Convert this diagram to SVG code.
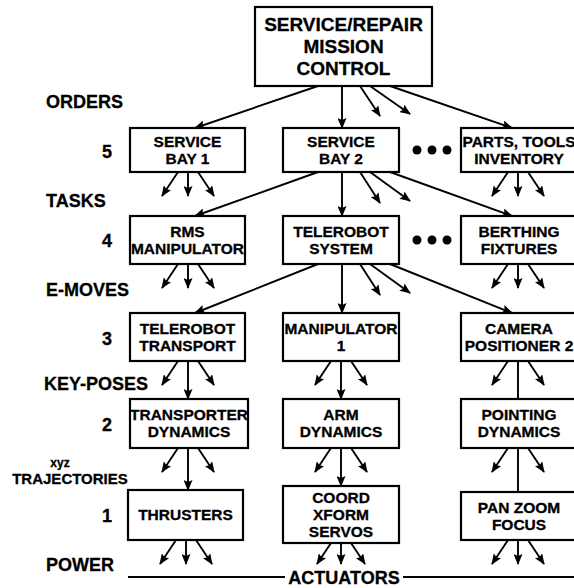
<svg xmlns="http://www.w3.org/2000/svg" width="574" height="588" viewBox="0 0 574 588">
<defs>
<marker id="ah" markerUnits="userSpaceOnUse" markerWidth="11" markerHeight="9" refX="10" refY="4.5" orient="auto">
<path d="M0,0 L11,4.5 L0,9 L2,4.5 z" fill="#000"/>
</marker>
<style>
.box{fill:#fff;stroke:#000;stroke-width:2.2}
.bt{font-family:"Liberation Sans",Arial,sans-serif;font-weight:bold;font-size:15.5px;text-anchor:middle;fill:#000;stroke:#000;stroke-width:0.3}
.tt{font-family:"Liberation Sans",Arial,sans-serif;font-weight:bold;font-size:19px;text-anchor:middle;fill:#000;stroke:#000;stroke-width:0.3}
.lb{font-family:"Liberation Sans",Arial,sans-serif;font-weight:bold;font-size:18px;fill:#000;stroke:#000;stroke-width:0.3}
.num{font-family:"Liberation Sans",Arial,sans-serif;font-weight:bold;font-size:18px;text-anchor:middle;fill:#000;stroke:#000;stroke-width:0.3}
.ar{stroke:#000;stroke-width:1.9;fill:none;marker-end:url(#ah)}
.ln{stroke:#000;stroke-width:1.9;fill:none}
</style>
</defs>
<rect width="574" height="588" fill="#fff"/>

<g id="labels">
<text class="lb" x="46" y="108">ORDERS</text>
<text class="num" x="107" y="158">5</text>
<text class="lb" x="46" y="207">TASKS</text>
<text class="num" x="107" y="247">4</text>
<text class="lb" x="46" y="296">E-MOVES</text>
<text class="num" x="107" y="345">3</text>
<text class="lb" x="44" y="390">KEY-POSES</text>
<text class="num" x="107" y="431">2</text>
<text class="bt" x="60" y="467" style="font-size:12px">xyz</text>
<text class="bt" x="70" y="484" style="font-size:15px">TRAJECTORIES</text>
<text class="num" x="107" y="522">1</text>
<text class="lb" x="46" y="571">POWER</text>
<text class="tt" x="344" y="584" style="font-size:18px">ACTUATORS</text>
<line class="ln" x1="128" y1="577" x2="285" y2="577"/>
<line class="ln" x1="403" y1="577" x2="574" y2="577"/>
</g>

<g id="connectors">
<line class="ar" x1="318" y1="86" x2="195" y2="128"/>
<line class="ar" x1="342" y1="86" x2="342" y2="128"/>
<line class="ar" x1="360" y1="86" x2="380" y2="116"/>
<line class="ar" x1="370" y1="86" x2="410" y2="114"/>
<line class="ar" x1="390" y1="86" x2="512" y2="128"/>
<line class="ar" x1="318" y1="172" x2="195" y2="216"/>
<line class="ar" x1="342" y1="172" x2="342" y2="216"/>
<line class="ar" x1="360" y1="172" x2="380" y2="203"/>
<line class="ar" x1="370" y1="172" x2="410" y2="201"/>
<line class="ar" x1="390" y1="172" x2="512" y2="216"/>
<line class="ar" x1="178" y1="172" x2="162" y2="196"/>
<line class="ar" x1="188" y1="172" x2="188" y2="196"/>
<line class="ar" x1="198" y1="172" x2="214" y2="196"/>
<line class="ar" x1="508" y1="172" x2="492" y2="196"/>
<line class="ar" x1="518" y1="172" x2="518" y2="196"/>
<line class="ar" x1="528" y1="172" x2="544" y2="196"/>
<line class="ar" x1="318" y1="264" x2="195" y2="313"/>
<line class="ar" x1="342" y1="264" x2="342" y2="313"/>
<line class="ar" x1="360" y1="264" x2="380" y2="295"/>
<line class="ar" x1="370" y1="264" x2="410" y2="293"/>
<line class="ar" x1="390" y1="264" x2="512" y2="313"/>
<line class="ar" x1="178" y1="264" x2="162" y2="288"/>
<line class="ar" x1="188" y1="264" x2="188" y2="288"/>
<line class="ar" x1="198" y1="264" x2="214" y2="288"/>
<line class="ar" x1="508" y1="264" x2="492" y2="288"/>
<line class="ar" x1="518" y1="264" x2="518" y2="288"/>
<line class="ar" x1="528" y1="264" x2="544" y2="288"/>
<line class="ar" x1="178" y1="361" x2="162" y2="385"/>
<line class="ar" x1="188" y1="361" x2="188" y2="399"/>
<line class="ar" x1="198" y1="361" x2="214" y2="385"/>
<line class="ar" x1="331" y1="361" x2="315" y2="385"/>
<line class="ar" x1="341" y1="361" x2="341" y2="399"/>
<line class="ar" x1="351" y1="361" x2="367" y2="385"/>
<line class="ar" x1="508" y1="361" x2="492" y2="385"/>
<line class="ln" x1="518" y1="361" x2="518" y2="399"/>
<line class="ar" x1="528" y1="361" x2="544" y2="385"/>
<line class="ar" x1="178" y1="448" x2="162" y2="472"/>
<line class="ar" x1="188" y1="448" x2="188" y2="490"/>
<line class="ar" x1="198" y1="448" x2="214" y2="472"/>
<line class="ar" x1="331" y1="448" x2="315" y2="472"/>
<line class="ar" x1="341" y1="448" x2="341" y2="486"/>
<line class="ar" x1="351" y1="448" x2="367" y2="472"/>
<line class="ar" x1="508" y1="448" x2="492" y2="472"/>
<line class="ln" x1="518" y1="448" x2="518" y2="492"/>
<line class="ar" x1="528" y1="448" x2="544" y2="472"/>
<line class="ar" x1="176" y1="540" x2="160" y2="564"/>
<line class="ar" x1="186" y1="540" x2="186" y2="564"/>
<line class="ar" x1="196" y1="540" x2="212" y2="564"/>
<line class="ar" x1="331" y1="543" x2="317" y2="564"/>
<line class="ar" x1="341" y1="543" x2="341" y2="564"/>
<line class="ar" x1="351" y1="543" x2="365" y2="564"/>
<line class="ar" x1="508" y1="540" x2="492" y2="564"/>
<line class="ar" x1="518" y1="540" x2="518" y2="564"/>
<line class="ar" x1="528" y1="540" x2="544" y2="564"/>
</g>

<g id="dots">
<circle cx="417" cy="150" r="4.5"/><circle cx="432" cy="150" r="4.5"/><circle cx="447" cy="150" r="4.5"/>
<circle cx="417" cy="240" r="4.5"/><circle cx="432" cy="240" r="4.5"/><circle cx="447" cy="240" r="4.5"/>
</g>

<g id="mission-control">
<rect class="box" x="255" y="7" width="177" height="79"/>
<text class="tt" x="343.5" y="31">SERVICE/REPAIR</text>
<text class="tt" x="343.5" y="53">MISSION</text>
<text class="tt" x="343.5" y="75">CONTROL</text>
</g>

<g id="service-bay-1">
<rect class="box" x="130" y="128" width="115" height="44"/>
<text class="bt" x="187.5" y="147">SERVICE</text>
<text class="bt" x="187.5" y="164">BAY 1</text>
</g>
<g id="service-bay-2">
<rect class="box" x="283" y="128" width="116" height="44"/>
<text class="bt" x="341" y="147">SERVICE</text>
<text class="bt" x="341" y="164">BAY 2</text>
</g>
<g id="parts-tools">
<rect class="box" x="461" y="128" width="120" height="44"/>
<text class="bt" x="519" y="147">PARTS, TOOLS</text>
<text class="bt" x="519" y="164">INVENTORY</text>
</g>

<g id="rms-manipulator">
<rect class="box" x="130" y="216" width="115" height="48"/>
<text class="bt" x="187.5" y="237">RMS</text>
<text class="bt" x="187.5" y="254">MANIPULATOR</text>
</g>
<g id="telerobot-system">
<rect class="box" x="283" y="216" width="116" height="48"/>
<text class="bt" x="341" y="237">TELEROBOT</text>
<text class="bt" x="341" y="254">SYSTEM</text>
</g>
<g id="berthing-fixtures">
<rect class="box" x="461" y="216" width="120" height="48"/>
<text class="bt" x="519" y="237">BERTHING</text>
<text class="bt" x="519" y="254">FIXTURES</text>
</g>

<g id="telerobot-transport">
<rect class="box" x="130" y="313" width="115" height="48"/>
<text class="bt" x="187.5" y="334">TELEROBOT</text>
<text class="bt" x="187.5" y="351">TRANSPORT</text>
</g>
<g id="manipulator-1">
<rect class="box" x="283" y="313" width="116" height="48"/>
<text class="bt" x="341" y="334">MANIPULATOR</text>
<text class="bt" x="341" y="351">1</text>
</g>
<g id="camera-positioner-2">
<rect class="box" x="461" y="313" width="120" height="48"/>
<text class="bt" x="519" y="334">CAMERA</text>
<text class="bt" x="519" y="351">POSITIONER 2</text>
</g>

<g id="transporter-dynamics">
<rect class="box" x="130" y="399" width="118" height="49"/>
<text class="bt" x="189" y="420">TRANSPORTER</text>
<text class="bt" x="189" y="437">DYNAMICS</text>
</g>
<g id="arm-dynamics">
<rect class="box" x="283" y="399" width="116" height="49"/>
<text class="bt" x="341" y="420">ARM</text>
<text class="bt" x="341" y="437">DYNAMICS</text>
</g>
<g id="pointing-dynamics">
<rect class="box" x="461" y="399" width="120" height="49"/>
<text class="bt" x="519" y="420">POINTING</text>
<text class="bt" x="519" y="437">DYNAMICS</text>
</g>

<g id="thrusters">
<rect class="box" x="128" y="490" width="115" height="50"/>
<text class="bt" x="185.5" y="520">THRUSTERS</text>
</g>
<g id="coord-xform-servos">
<rect class="box" x="283" y="486" width="116" height="57"/>
<text class="bt" x="341" y="503">COORD</text>
<text class="bt" x="341" y="520">XFORM</text>
<text class="bt" x="341" y="537">SERVOS</text>
</g>
<g id="pan-zoom-focus">
<rect class="box" x="461" y="492" width="120" height="48"/>
<text class="bt" x="519" y="513">PAN ZOOM</text>
<text class="bt" x="519" y="530">FOCUS</text>
</g>
</svg>
